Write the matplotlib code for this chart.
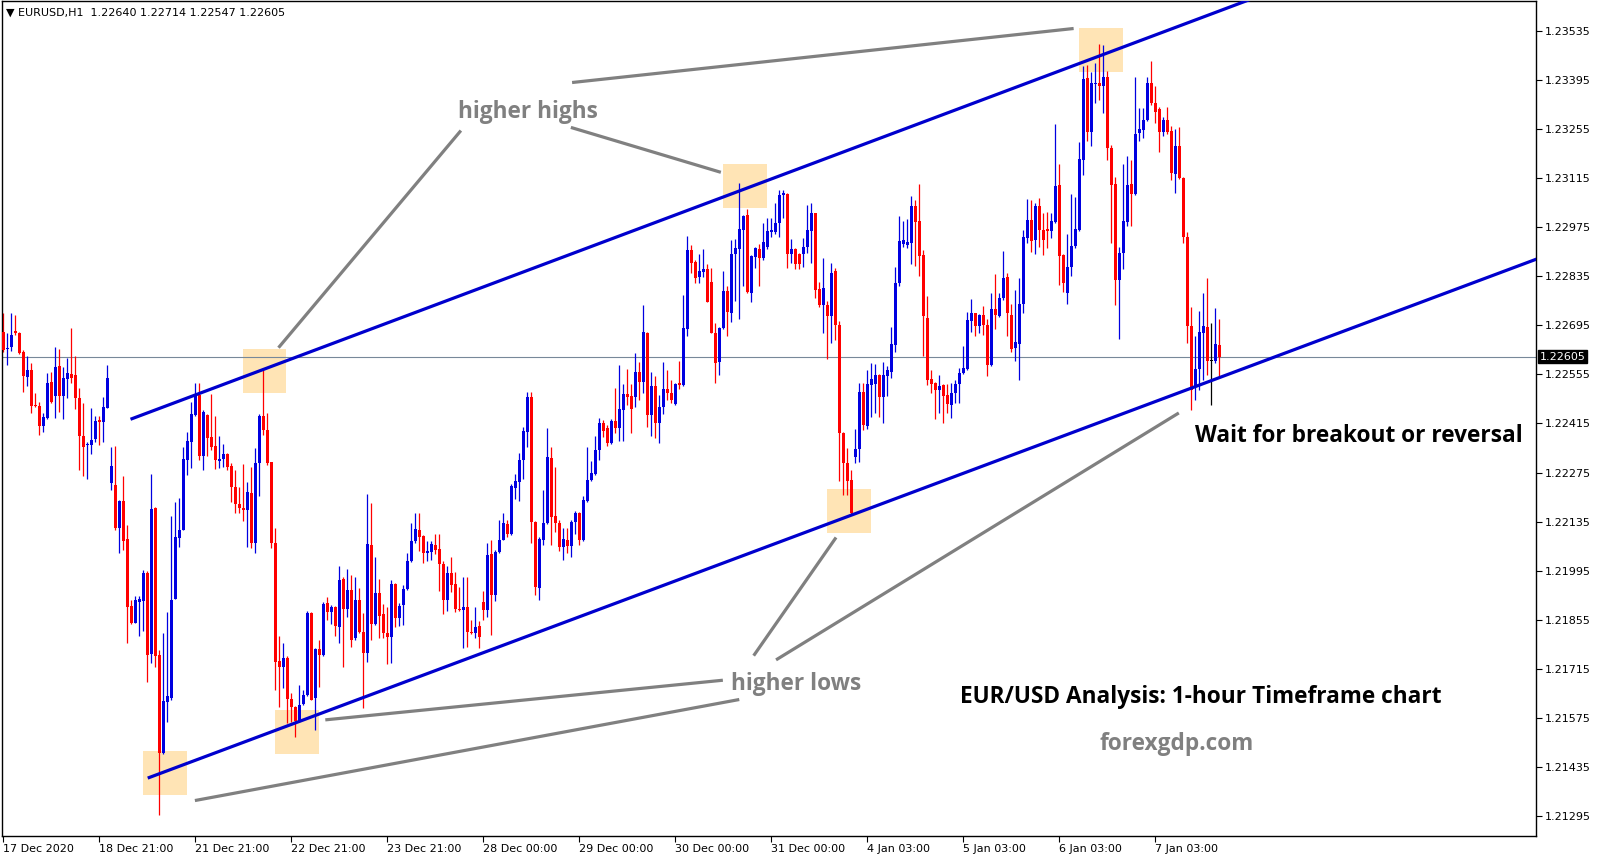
import matplotlib
matplotlib.use('Agg')
import matplotlib.pyplot as plt
import matplotlib.transforms as mtransforms
from matplotlib.patches import Rectangle
import numpy as np

# EURUSD H1 candles, 17 Dec 2020 21:00 .. 7 Jan 2021, values in 1e-5 above 1.0
opens = [
    22677, 22626, 22634, 22679, 22672, 22619, 22547, 22568, 22467, 22465,
    22409, 22430, 22533, 22492, 22579, 22492, 22543, 22556, 22552, 22488,
    22378, 22353, 22354, 22372, 22425, 22420, 22460, 22245, 22240, 22118,
    22194, 22086, 21896, 21847, 21907, 21909, 21990, 21758, 22175, 21755,
    21475, 21622, 21632, 21915, 22088, 22112, 22311, 22363, 22439, 22496,
    22321, 22439, 22377, 22351, 22309, 22313, 22328, 22295, 22235, 22186,
    22174, 22167, 22216, 22074, 22302, 22436, 22397, 22304, 22074, 21739,
    21722, 21746, 21629, 21606, 21568, 21616, 21641, 21875, 21631, 21771,
    21755, 21904, 21878, 21891, 21836, 21973, 21885, 21940, 21802, 21913,
    21821, 21760, 22068, 21843, 21932, 21872, 21818, 21807, 21957, 21859,
    21897, 21942, 22023, 22081, 22111, 22094, 22045, 22049, 22068, 22056,
    22014, 21911, 21990, 21957, 21887, 21883, 21891, 21821, 21818, 21837,
    21907, 21883, 22043, 21926, 22049, 22084, 22128, 22100, 22230, 22249,
    22311, 22391, 22491, 22135, 21945, 22082, 22130, 22317, 22151, 22132,
    22064, 22084, 22065, 22135, 22160, 22082, 22195, 22255, 22271, 22339,
    22417, 22401, 22360, 22422, 22401, 22453, 22498, 22493, 22490, 22562,
    22534, 22674, 22439, 22522, 22416, 22461, 22512, 22503, 22471, 22531,
    22524, 22683, 22910, 22876, 22832, 22848, 22854, 22819, 22674, 22591,
    22686, 22793, 22731, 22897, 22911, 22966, 23009, 22788, 22889, 22911,
    22886, 22919, 22962, 22962, 22986, 23066, 23068, 22898, 22911, 22898,
    22898, 22917, 22965, 23014, 22797, 22753, 22753, 22720, 22851, 22696,
    22389, 22302, 22254, 22318, 22341, 22506, 22409, 22525, 22528, 22553,
    22490, 22549, 22562, 22638, 22815, 22928, 22924, 22929, 23035, 22993,
    22896, 22717, 22541, 22530, 22511, 22525, 22495, 22468, 22503, 22528,
    22558, 22570, 22706, 22729, 22692, 22725, 22696, 22582, 22741, 22722,
    22772, 22832, 22725, 22630, 22642, 22756, 22943, 22995, 22937, 23035,
    22967, 22969, 22965, 22988, 23095, 22896, 22788, 22861, 22920, 22967,
    23167, 23399, 23247, 23383, 23385, 23376, 23404, 23200, 23098, 22823,
    22900, 22988, 23098, 23070, 23243, 23252, 23279, 23385, 23330, 23311,
    23247, 23279, 23250, 23127, 23206, 23114, 22946, 22693, 22521, 22570,
    22674, 22691, 22592, 22592, 22640]

highs = [
    22729, 22672, 22729, 22724, 22677, 22624, 22606, 22587, 22501, 22477,
    22444, 22558, 22563, 22634, 22626, 22577, 22601, 22686, 22606, 22515,
    22473, 22363, 22458, 22436, 22435, 22490, 22582, 22349, 22351, 22197,
    22264, 22126, 21912, 21922, 21922, 21996, 21993, 22271, 22178, 21770,
    21817, 21877, 22150, 22192, 22202, 22349, 22390, 22477, 22531, 22531,
    22452, 22442, 22499, 22436, 22379, 22357, 22330, 22302, 22283, 22235,
    22300, 22248, 22292, 22344, 22441, 22572, 22444, 22306, 22116, 21809,
    21789, 21751, 21646, 21610, 21670, 21655, 21879, 21878, 21774, 21797,
    21907, 21921, 21897, 21894, 22008, 21978, 21999, 21983, 21976, 21945,
    21874, 22214, 22187, 22033, 21972, 21900, 21891, 21970, 21959, 21904,
    21954, 22046, 22132, 22160, 22159, 22096, 22081, 22081, 22100, 22100,
    22024, 22008, 22035, 21992, 21948, 21976, 21978, 21854, 21891, 21853,
    21937, 22073, 22083, 22054, 22140, 22160, 22140, 22242, 22271, 22331,
    22406, 22505, 22505, 22138, 22092, 22225, 22401, 22348, 22291, 22140,
    22116, 22116, 22140, 22166, 22163, 22208, 22348, 22309, 22379, 22432,
    22426, 22410, 22427, 22515, 22582, 22528, 22569, 22527, 22617, 22591,
    22753, 22677, 22563, 22550, 22495, 22591, 22568, 22539, 22530, 22594,
    22781, 22949, 22924, 22881, 22898, 22911, 22870, 22857, 22702, 22691,
    22850, 22807, 22938, 22940, 23100, 23009, 23025, 22895, 22917, 22928,
    22987, 23000, 23000, 23043, 23082, 23081, 23071, 22940, 22914, 22900,
    22943, 23038, 23044, 23016, 22819, 22886, 22765, 22873, 22857, 22708,
    22391, 22344, 22283, 22398, 22531, 22531, 22568, 22588, 22585, 22555,
    22591, 22579, 22691, 22862, 23006, 22993, 22998, 23064, 23053, 23098,
    22910, 22777, 22568, 22532, 22554, 22528, 22528, 22530, 22539, 22573,
    22636, 22734, 22769, 22731, 22728, 22749, 22712, 22787, 22842, 22787,
    22908, 22845, 22756, 22796, 22829, 22967, 23054, 23053, 23043, 23057,
    23016, 23019, 23016, 23268, 23154, 22899, 22956, 23070, 23062, 23216,
    23434, 23437, 23418, 23444, 23497, 23494, 23421, 23209, 23119, 22918,
    23155, 23178, 23165, 23402, 23314, 23314, 23402, 23447, 23377, 23317,
    23288, 23317, 23262, 23254, 23260, 23119, 22962, 22747, 22665, 22737,
    22787, 22829, 22700, 22744, 22714]

lows = [
    22620, 22582, 22623, 22667, 22613, 22506, 22522, 22446, 22463, 22382,
    22392, 22427, 22472, 22430, 22449, 22427, 22487, 22530, 22455, 22281,
    22265, 22256, 22328, 22363, 22354, 22363, 22458, 22224, 22112, 22047,
    22055, 21790, 21844, 21846, 21808, 21824, 21679, 21732, 21720, 21299,
    21472, 21565, 21627, 21914, 22064, 22110, 22268, 22287, 22435, 22311,
    22281, 22323, 22340, 22284, 22287, 22292, 22283, 22192, 22159, 22159,
    22138, 22062, 22059, 22045, 22207, 22382, 22297, 22059, 21654, 21608,
    21660, 21562, 21565, 21521, 21565, 21613, 21638, 21627, 21541, 21665,
    21752, 21855, 21843, 21809, 21790, 21720, 21864, 21779, 21798, 21818,
    21603, 21736, 21799, 21840, 21802, 21802, 21728, 21733, 21836, 21837,
    21840, 21940, 22021, 22073, 22052, 22018, 22024, 22026, 22043, 21938,
    21872, 21881, 21935, 21878, 21881, 21774, 21779, 21815, 21802, 21774,
    21856, 21862, 21812, 21910, 22046, 22083, 22090, 22097, 22201, 22195,
    22258, 22347, 22075, 21926, 21913, 22068, 22128, 22068, 22106, 22052,
    22026, 22046, 22033, 22101, 22068, 22081, 22192, 22252, 22268, 22312,
    22375, 22350, 22357, 22389, 22366, 22366, 22468, 22389, 22463, 22482,
    22501, 22404, 22379, 22373, 22360, 22442, 22482, 22473, 22468, 22512,
    22522, 22663, 22845, 22816, 22816, 22832, 22760, 22672, 22530, 22553,
    22683, 22664, 22705, 22765, 22712, 22807, 22786, 22762, 22857, 22807,
    22881, 22911, 22948, 22955, 22948, 23000, 22857, 22872, 22854, 22854,
    22862, 22900, 22872, 22772, 22748, 22672, 22598, 22644, 22653, 22252,
    22211, 22211, 22155, 22303, 22306, 22396, 22398, 22434, 22446, 22434,
    22416, 22492, 22544, 22620, 22807, 22917, 22915, 22870, 22864, 22836,
    22606, 22525, 22502, 22427, 22445, 22416, 22445, 22430, 22473, 22473,
    22557, 22568, 22677, 22663, 22673, 22668, 22551, 22580, 22684, 22718,
    22767, 22663, 22620, 22592, 22540, 22730, 22929, 22905, 22899, 22918,
    22896, 22915, 22943, 22986, 22810, 22791, 22756, 22834, 22915, 22965,
    23124, 23219, 23206, 23330, 23336, 23300, 23167, 22929, 22753, 22655,
    22855, 22977, 22977, 23067, 23219, 23228, 23276, 23323, 23273, 23190,
    23235, 23241, 23110, 23073, 23111, 22929, 22644, 22452, 22481, 22511,
    22540, 22554, 22468, 22587, 22547]

closes = [
    22624, 22628, 22667, 22672, 22617, 22549, 22566, 22465, 22464, 22409,
    22433, 22529, 22477, 22575, 22492, 22544, 22560, 22545, 22489, 22378,
    22349, 22355, 22368, 22422, 22420, 22461, 22544, 22294, 22116, 22195,
    22081, 21893, 21847, 21912, 21915, 21990, 21755, 22171, 21752, 21475,
    21624, 21637, 21912, 22091, 22112, 22314, 22365, 22442, 22496, 22321,
    22449, 22373, 22349, 22311, 22313, 22328, 22292, 22233, 22186, 22173,
    22167, 22219, 22074, 22302, 22436, 22395, 22303, 22074, 21736, 21722,
    21746, 21629, 21606, 21568, 21613, 21641, 21876, 21628, 21771, 21755,
    21900, 21878, 21891, 21837, 21970, 21885, 21940, 21799, 21913, 21821,
    21761, 22070, 21843, 21931, 21866, 21817, 21807, 21957, 21859, 21894,
    21942, 22023, 22081, 22113, 22092, 22045, 22052, 22070, 22054, 22014,
    21911, 21990, 21954, 21885, 21883, 21891, 21821, 21818, 21836, 21807,
    21883, 22040, 21926, 22049, 22084, 22130, 22100, 22236, 22252, 22311,
    22394, 22491, 22135, 21948, 22085, 22132, 22320, 22149, 22130, 22064,
    22087, 22065, 22135, 22160, 22082, 22196, 22255, 22274, 22339, 22417,
    22394, 22360, 22422, 22401, 22455, 22498, 22491, 22455, 22561, 22534,
    22675, 22439, 22522, 22417, 22463, 22512, 22503, 22482, 22528, 22524,
    22686, 22910, 22872, 22829, 22850, 22854, 22762, 22674, 22588, 22686,
    22793, 22734, 22897, 22914, 22968, 23006, 22791, 22891, 22914, 22886,
    22933, 22965, 22966, 22987, 23066, 23071, 22898, 22911, 22870, 22870,
    22917, 22967, 23014, 22796, 22753, 22800, 22720, 22845, 22696, 22389,
    22302, 22252, 22159, 22341, 22506, 22411, 22528, 22541, 22553, 22490,
    22553, 22566, 22642, 22816, 22936, 22938, 22933, 23035, 22988, 22891,
    22720, 22540, 22528, 22511, 22522, 22492, 22471, 22503, 22528, 22560,
    22573, 22709, 22729, 22692, 22725, 22696, 22582, 22741, 22725, 22772,
    22829, 22729, 22627, 22646, 22756, 22946, 22995, 22934, 23035, 22967,
    22937, 22965, 22991, 23092, 22891, 22815, 22861, 22921, 22969, 23168,
    23396, 23247, 23387, 23385, 23376, 23404, 23200, 23095, 22825, 22902,
    22991, 23095, 23070, 23241, 23254, 23281, 23385, 23328, 23304, 23247,
    23279, 23247, 23129, 23206, 23114, 22946, 22693, 22511, 22570, 22677,
    22693, 22592, 22592, 22642, 22605]

date_labels = ['17 Dec 2020', '18 Dec 21:00', '21 Dec 21:00', '22 Dec 21:00',
               '23 Dec 21:00', '28 Dec 00:00', '29 Dec 00:00', '30 Dec 00:00',
               '31 Dec 00:00', '4 Jan 03:00', '5 Jan 03:00', '6 Jan 03:00',
               '7 Jan 03:00']
label_bars = [0, 24, 48, 72, 96, 120, 144, 168, 192, 216, 240, 264, 288]
price_ticks = [1.21295, 1.21435, 1.21575, 1.21715, 1.21855, 1.21995, 1.22135,
               1.22275, 1.22415, 1.22555, 1.22695, 1.22835, 1.22975, 1.23115,
               1.23255, 1.23395, 1.23535]

# channel lines (bar, price)
upper_line = [(31.8, 1.22427), (330.0, 1.23702)]
lower_line = [(36.1, 1.21404), (390.0, 1.22912)]
# highlighted touches (bar, price)
boxes = [(65.3, 1.22565), (185.4, 1.23092), (274.4, 1.23480),
         (40.35, 1.21418), (73.4, 1.21535), (211.4, 1.22165)]
# grey pointer lines
pointers = [((68.8, 1.22631), (114.4, 1.23250)),
            ((141.9, 1.23259), (179.4, 1.23131)),
            ((142.2, 1.23387), (267.6, 1.23541)),
            ((47.9, 1.21340), (184.0, 1.21628)),
            ((80.5, 1.21570), (179.9, 1.21683)),
            ((187.6, 1.21753), (208.2, 1.22090)),
            ((193.2, 1.21741), (293.9, 1.22445))]

o = 1.0 + np.array(opens) / 1e5
h = 1.0 + np.array(highs) / 1e5
l = 1.0 + np.array(lows) / 1e5
c = 1.0 + np.array(closes) / 1e5
x = np.arange(len(o))

BLUE = '#0000e0'
RED = '#ff0000'
cols = np.where(c > o, BLUE, np.where(c < o, RED, 'black'))

fig = plt.figure(figsize=(15.99, 8.6), dpi=100)
ax = fig.add_axes([2 / 1599, 24 / 860, 1534 / 1599, 835 / 860])
ax.set_xlim(-0.33, 383.2)
ax.set_ylim(1.212389, 1.236194)

for bx, by in boxes:
    ax.add_patch(Rectangle((bx - 5.5, by - 0.000627), 11, 0.001254,
                           facecolor='#ffe4b5', edgecolor='none', zorder=1))

ax.axhline(c[-1], color='#778899', lw=0.8, zorder=1.5)

ax.vlines(x, l, h, colors=cols, linewidth=0.9, zorder=2)
body = np.maximum(np.abs(c - o), 0.00003)
ax.bar(x, body, bottom=np.minimum(o, c), width=0.8, color=cols,
       linewidth=0, zorder=3)

for ln in (upper_line, lower_line):
    ax.plot([ln[0][0], ln[1][0]], [ln[0][1], ln[1][1]], color='#0000cd',
            lw=2.3, zorder=4, solid_capstyle='butt')
for p0, p1 in pointers:
    ax.plot([p0[0], p1[0]], [p0[1], p1[1]], color='#808080', lw=2.3,
            zorder=4, solid_capstyle='butt')

tf = 'Open Sans'
fs = 16.3
dy = 0.00008
ax.text(131.2, 1.23311 - dy, 'higher highs', color='#808080', fontsize=fs,
        fontweight='bold', family=tf, ha='center', va='center', zorder=5)
ax.text(198.2, 1.21680 - dy, 'higher lows', color='#808080', fontsize=fs,
        fontweight='bold', family=tf, ha='center', va='center', zorder=5)
ax.text(338.9, 1.22387 - dy, 'Wait for breakout or reversal', color='black',
        fontsize=fs, fontweight='bold', family=tf, ha='center', va='center', zorder=5)
ax.text(299.4, 1.21642 - dy, 'EUR/USD Analysis: 1-hour Timeframe chart', color='black',
        fontsize=fs, fontweight='bold', family=tf, ha='center', va='center', zorder=5)
ax.text(293.3, 1.21509 - dy, 'forexgdp.com', color='#808080', fontsize=fs,
        fontweight='bold', family=tf, ha='center', va='center', zorder=5)

ax.set_xticks(label_bars)
ax.set_xticklabels(date_labels, ha='left')
ax.tick_params(axis='x', length=4, direction='out', pad=2, labelsize=8)
ax.yaxis.tick_right()
ax.set_yticks(price_ticks)
ax.set_yticklabels(['%.5f' % t for t in price_ticks])
ax.tick_params(axis='y', length=4, direction='out', pad=2, labelsize=8)
for s in ax.spines.values():
    s.set_color('black')
    s.set_linewidth(1)

trans = mtransforms.blended_transform_factory(ax.transAxes, ax.transData)
ax.text(1.0025, c[-1], '%.5f' % c[-1], transform=trans, color='white',
        fontsize=8, va='center', ha='left',
        bbox=dict(facecolor='black', edgecolor='black', pad=1.2), zorder=6)

fig.text(6 / 1599, 1 - 12.5 / 860,
         '\u25bc EURUSD,H1  %.5f %.5f %.5f %.5f' % (o[-1], h[-1], l[-1], c[-1]),
         fontsize=8, va='center', ha='left')

fig.savefig('out.png', dpi=100)
